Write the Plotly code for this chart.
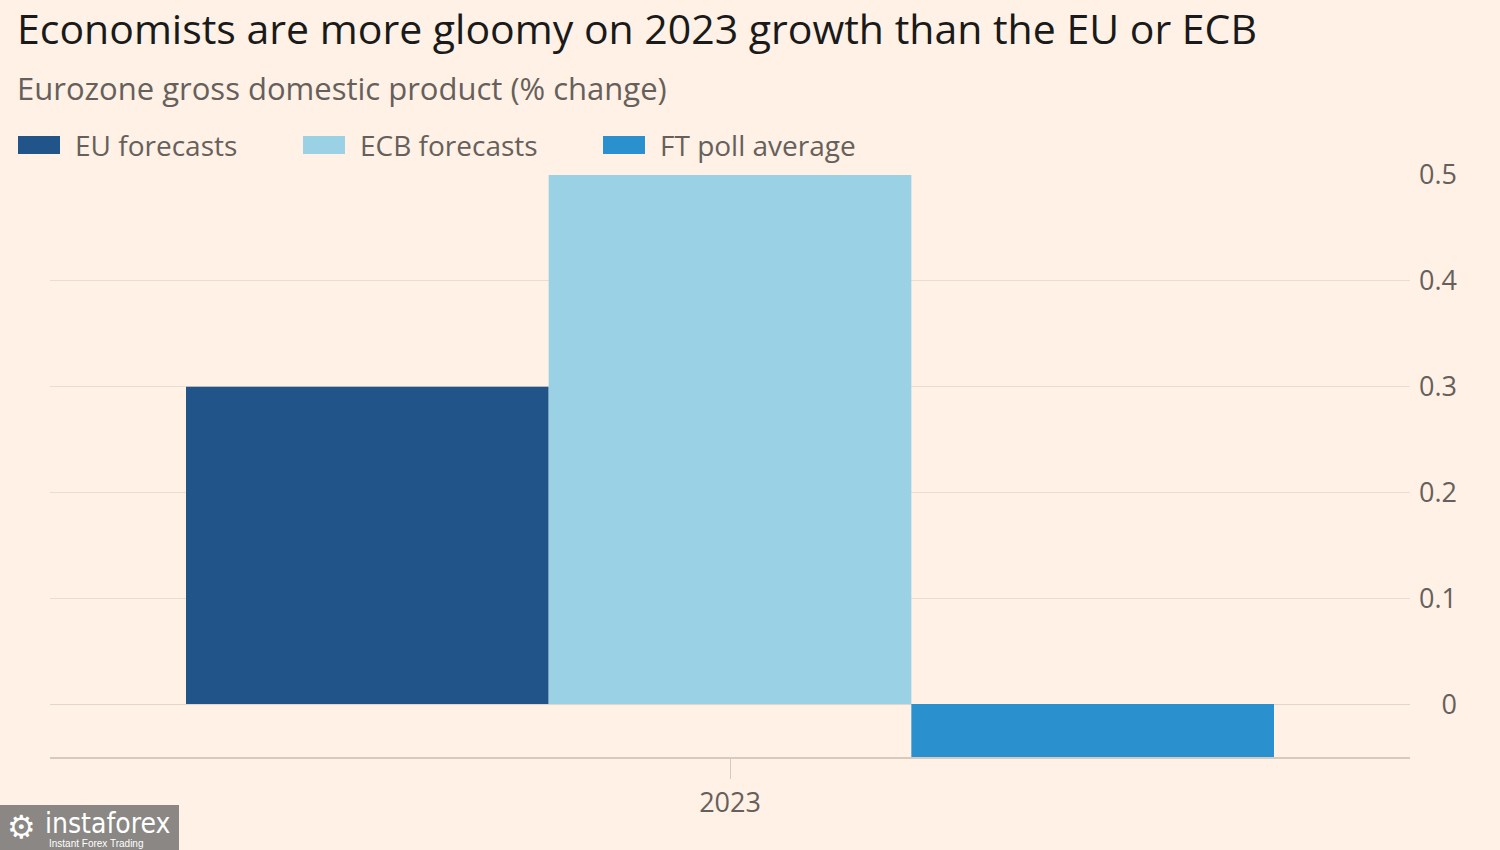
import plotly.graph_objects as go

categories = ["2023"]
series_names = ["EU forecasts", "ECB forecasts", "FT poll average"]
eu_values = [0.3]
ecb_values = [0.5]
ft_values = [-0.05]
tick_vals = [0, 0.1, 0.2, 0.3, 0.4, 0.5]
tick_text = ["\u2008\u20070", "0.1", "0.2", "0.3", "0.4", "0.5"]

colors = ["#215488", "#9AD1E4", "#2B91CE"]
BG = "#FFF1E5"
FONT = "'Open Sans', Lato, sans-serif"
GREY = "#66605C"

W, H = 1500, 850
L, R, T, B = 50, 90, 175, 93
PW, PH = W - L - R, H - T - B

def px(x):
    return (x - L) / PW

def py(y):
    return (H - B - y) / PH

fig = go.Figure()
for name, vals, c in zip(series_names, [eu_values, ecb_values, ft_values], colors):
    fig.add_trace(go.Bar(x=categories, y=vals, name=name, showlegend=False,
                         marker=dict(color=c, line=dict(width=0))))

fig.update_layout(
    width=W, height=H,
    paper_bgcolor=BG, plot_bgcolor=BG,
    barmode="group", bargap=0.2, bargroupgap=0,
    margin=dict(l=L, r=R, t=T, b=B),
    font=dict(family=FONT, color=GREY),
    title=dict(text="Economists are more gloomy on 2023 growth than the EU or ECB",
               x=17 / W, xanchor="left", y=1 - 30 / H, yanchor="middle",
               font=dict(size=41, color="#1A1A1A", family=FONT)),
)

fig.add_annotation(text="Eurozone gross domestic product (% change)", xref="paper", yref="paper",
                   x=px(15), xanchor="left", y=py(88), yanchor="middle",
                   showarrow=False, font=dict(size=31, color=GREY, family=FONT))

# legend (swatches + labels)
legend_x = [18, 303, 603]
for name, c, x0 in zip(series_names, colors, legend_x):
    fig.add_shape(type="rect", xref="paper", yref="paper", x0=px(x0), x1=px(x0 + 42),
                  y0=py(154), y1=py(136), fillcolor=c, line=dict(width=0))
    fig.add_annotation(text=name, xref="paper", yref="paper", x=px(x0 + 55), xanchor="left",
                       y=py(145), yanchor="middle", showarrow=False,
                       font=dict(size=28, color=GREY, family=FONT))

fig.update_yaxes(side="right", range=[-0.05, 0.5], tickvals=tick_vals, ticktext=tick_text,
                 showgrid=True, gridcolor="#E9DCD0", gridwidth=1, zeroline=True, zerolinecolor="#E3D5C9",
                 zerolinewidth=1, tickfont=dict(size=27, color=GREY), ticks="",
                 ticklabelstandoff=8, showline=False, fixedrange=True)
fig.update_xaxes(showline=True, linecolor="#D6CABF", linewidth=2, ticks="outside", ticklen=20,
                 tickcolor="#D6CABF", tickwidth=1, tickfont=dict(size=27, color=GREY),
                 ticklabelstandoff=1, showgrid=False)

# watermark
fig.add_shape(type="rect", xref="paper", yref="paper", x0=px(0), x1=px(179),
              y0=py(850), y1=py(805), fillcolor="#8A8784", line=dict(width=0), layer="above")
fig.add_annotation(text="instaforex", xref="paper", yref="paper", x=px(43), xanchor="left",
                   y=py(823), yanchor="middle", showarrow=False,
                   font=dict(size=28, color="white", family="'Liberation Sans Narrow', 'DejaVu Sans Condensed', sans-serif"))
fig.add_annotation(text="Instant Forex Trading", xref="paper", yref="paper", x=px(47), xanchor="left",
                   y=py(843), yanchor="middle", showarrow=False,
                   font=dict(size=10, color="white", family="'Liberation Sans Narrow', sans-serif"))
fig.add_annotation(text="⚙", xref="paper", yref="paper", x=px(5), xanchor="left",
                   y=py(827), yanchor="middle", showarrow=False,
                   font=dict(size=32, color="white", family="DejaVu Sans"))

fig.write_html("out.html")
